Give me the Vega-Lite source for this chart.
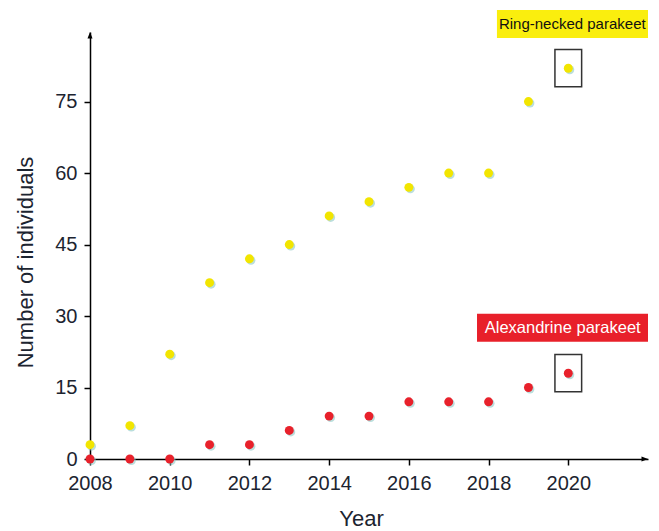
{
  "$schema": "https://vega.github.io/schema/vega-lite/v6.json",
  "width": 558,
  "height": 427,
  "autosize": {"type": "none"},
  "padding": {"left": 90, "top": 32, "right": 11, "bottom": 72},
  "config": {"view": {"stroke": null}, "font": "Liberation Sans"},
  "data": {
    "values": [
      {"year": 2008, "species": "Ring-necked parakeet", "count": 3},
      {"year": 2009, "species": "Ring-necked parakeet", "count": 7},
      {"year": 2010, "species": "Ring-necked parakeet", "count": 22},
      {"year": 2011, "species": "Ring-necked parakeet", "count": 37},
      {"year": 2012, "species": "Ring-necked parakeet", "count": 42},
      {"year": 2013, "species": "Ring-necked parakeet", "count": 45},
      {"year": 2014, "species": "Ring-necked parakeet", "count": 51},
      {"year": 2015, "species": "Ring-necked parakeet", "count": 54},
      {"year": 2016, "species": "Ring-necked parakeet", "count": 57},
      {"year": 2017, "species": "Ring-necked parakeet", "count": 60},
      {"year": 2018, "species": "Ring-necked parakeet", "count": 60},
      {"year": 2019, "species": "Ring-necked parakeet", "count": 75},
      {"year": 2020, "species": "Ring-necked parakeet", "count": 82},
      {"year": 2008, "species": "Alexandrine parakeet", "count": 0},
      {"year": 2009, "species": "Alexandrine parakeet", "count": 0},
      {"year": 2010, "species": "Alexandrine parakeet", "count": 0},
      {"year": 2011, "species": "Alexandrine parakeet", "count": 3},
      {"year": 2012, "species": "Alexandrine parakeet", "count": 3},
      {"year": 2013, "species": "Alexandrine parakeet", "count": 6},
      {"year": 2014, "species": "Alexandrine parakeet", "count": 9},
      {"year": 2015, "species": "Alexandrine parakeet", "count": 9},
      {"year": 2016, "species": "Alexandrine parakeet", "count": 12},
      {"year": 2017, "species": "Alexandrine parakeet", "count": 12},
      {"year": 2018, "species": "Alexandrine parakeet", "count": 12},
      {"year": 2019, "species": "Alexandrine parakeet", "count": 15},
      {"year": 2020, "species": "Alexandrine parakeet", "count": 18}
    ]
  },
  "layer": [
    {
      "mark": {"type": "point", "filled": true, "size": 80, "xOffset": 1.5, "yOffset": 1.5, "color": "#8cc8c4", "opacity": 0.6},
      "encoding": {
        "x": {"field": "year", "type": "quantitative"},
        "y": {"field": "count", "type": "quantitative"}
      }
    },
    {
      "mark": {"type": "point", "filled": true, "size": 80, "opacity": 1},
      "encoding": {
        "x": {
          "field": "year",
          "type": "quantitative",
          "scale": {"domain": [2008, 2022], "nice": false, "zero": false},
          "axis": {
            "title": "Year",
            "values": [2008, 2010, 2012, 2014, 2016, 2018, 2020],
            "format": "d",
            "grid": false,
            "domainColor": "#000000",
            "domainWidth": 1.5,
            "tickColor": "#000000",
            "tickWidth": 1.5,
            "tickSize": 6,
            "labelFontSize": 20,
            "labelColor": "#1c2430",
            "labelBaseline": "middle",
            "labelPadding": 18,
            "labelFlush": false,
            "titleFontSize": 22,
            "titleFontWeight": "normal",
            "titleColor": "#1c2430",
            "titleX": 271,
            "titleY": 59,
            "titleBaseline": "middle"
          }
        },
        "y": {
          "field": "count",
          "type": "quantitative",
          "scale": {"domain": [0, 89.6], "nice": false},
          "axis": {
            "title": "Number of individuals",
            "values": [0, 15, 30, 45, 60, 75],
            "grid": false,
            "domainColor": "#000000",
            "domainWidth": 1.5,
            "tickColor": "#000000",
            "tickWidth": 1.5,
            "tickSize": 6,
            "labelFontSize": 20,
            "labelColor": "#1c2430",
            "labelPadding": 7,
            "titleFontSize": 22,
            "titleFontWeight": "normal",
            "titleColor": "#1c2430",
            "titleX": -65,
            "titleY": 230,
            "titleBaseline": "middle",
            "titleAlign": "center"
          }
        },
        "color": {
          "field": "species",
          "type": "nominal",
          "scale": {"domain": ["Ring-necked parakeet", "Alexandrine parakeet"], "range": ["#F2E500", "#E8212B"]},
          "legend": null
        }
      }
    },
    {
      "transform": [{"filter": "datum.year == 2020"}],
      "mark": {"type": "point", "shape": "M-0.716,-1 L0.716,-1 L0.716,1 L-0.716,1 Z", "size": 1391, "filled": false, "stroke": "#333333", "strokeWidth": 1.5, "opacity": 1},
      "encoding": {
        "x": {"field": "year", "type": "quantitative"},
        "y": {"field": "count", "type": "quantitative"}
      }
    },
    {
      "data": {"values": [{}]},
      "mark": {"type": "point", "shape": "M0,0 L-1,2.6 L1,2.6 Z", "size": 25, "filled": true, "color": "#000000", "opacity": 1},
      "encoding": {
        "x": {"datum": 2008, "type": "quantitative"},
        "y": {"datum": 89.6, "type": "quantitative"}
      }
    },
    {
      "data": {"values": [{}]},
      "mark": {"type": "point", "shape": "M0,0 L-2.6,-1 L-2.6,1 Z", "size": 25, "filled": true, "color": "#000000", "opacity": 1},
      "encoding": {
        "x": {"datum": 2022, "type": "quantitative"},
        "y": {"datum": 0, "type": "quantitative"}
      }
    },
    {
      "data": {"values": [{}]},
      "mark": {"type": "rect", "color": "#FAEE0E"},
      "encoding": {
        "x": {"datum": 2018.21, "type": "quantitative"},
        "x2": {"datum": 2022.0},
        "y": {"datum": 94.23, "type": "quantitative"},
        "y2": {"datum": 88.33}
      }
    },
    {
      "data": {"values": [{}]},
      "mark": {"type": "text", "text": "Ring-necked parakeet", "fontSize": 15, "color": "#111111", "align": "center", "baseline": "middle"},
      "encoding": {
        "x": {"datum": 2020.1, "type": "quantitative"},
        "y": {"datum": 91.3, "type": "quantitative"}
      }
    },
    {
      "data": {"values": [{}]},
      "mark": {"type": "rect", "color": "#E8202A"},
      "encoding": {
        "x": {"datum": 2017.71, "type": "quantitative"},
        "x2": {"datum": 2022.0},
        "y": {"datum": 30.47, "type": "quantitative"},
        "y2": {"datum": 24.6}
      }
    },
    {
      "data": {"values": [{}]},
      "mark": {"type": "text", "text": "Alexandrine parakeet", "fontSize": 16.5, "color": "#ffffff", "align": "center", "baseline": "middle"},
      "encoding": {
        "x": {"datum": 2019.86, "type": "quantitative"},
        "y": {"datum": 27.5, "type": "quantitative"}
      }
    }
  ]
}
